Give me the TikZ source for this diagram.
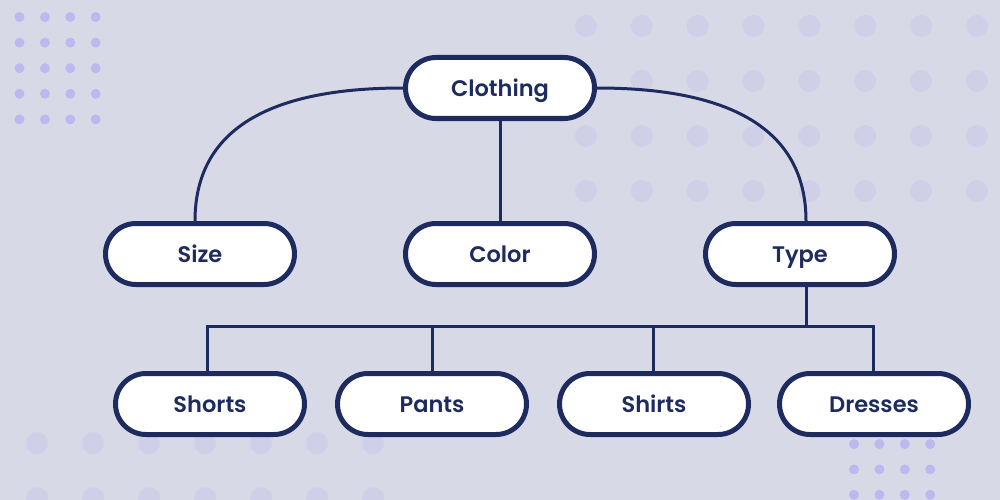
\documentclass[tikz,border=0pt]{standalone}
\usepackage{fontspec}
\usepackage{xcolor}
\newfontfamily\boxfont{Poppins SemiBold}

\begin{document}
\begin{tikzpicture}[x=1pt,y=-1pt,
  box/.style={draw=navy,line width=5pt,fill=white,rounded corners=30.5pt,
    minimum width=189pt,minimum height=61pt,text=navy,
    text height=18pt,text depth=1.5pt,
    font=\boxfont\fontsize{22.5}{26}\selectfont},
  link/.style={draw=navy,line width=3pt}]
\definecolor{lavender}{HTML}{D8D9E7}
\definecolor{navy}{HTML}{1D2B5F}
\definecolor{dotsmall}{HTML}{BDB8EF}
\definecolor{dotbig}{HTML}{CFCFE7}
\fill[lavender] (0,0) rectangle (1000,500);
\useasboundingbox (0,0) rectangle (1000,500);
% dots in the corners
\foreach \i in {0,...,7}
  \foreach \j in {0,...,3}
  { \fill[dotbig] (586+55.85*\i,26+55*\j) circle (11); }
\foreach \i in {0,...,6}
  \foreach \j in {0,1}
  { \fill[dotbig] (37+56*\i,443+55*\j) circle (11); }
\foreach \i in {0,...,3}
  \foreach \j in {0,...,4}
  { \fill[dotsmall] (19.5+25.4*\i,17+25.6*\j) circle (5); }
\foreach \i in {0,...,3}
  \foreach \j in {0,...,2}
  { \fill[dotsmall] (854+25.4*\i,444+25.4*\j) circle (5); }
% the boxes
\foreach \name/\txt/\xpos/\ypos in {cloth/Clothing/500/88,size/Size/200/254,
  color/Color/500/254,type/Type/800/254,shorts/Shorts/210/404,
  pants/Pants/432/404,shirts/Shirts/654/404,dresses/Dresses/874/404}
  { \node[box] (\name) at (\xpos,\ypos) {\txt}; }
% links
\draw[link] (cloth.west) .. controls (253,88) and ([xshift=-5pt]size.north |- 0,140) .. ([xshift=-5pt]size.north);
\draw[link] (cloth.east) .. controls (747,88) and ([xshift=6pt]type.north |- 0,140) .. ([xshift=6pt]type.north);
\draw[link] (cloth.south) -- (color.north);
\coordinate (split) at (806,326);
\draw[link] (type.south -| split) -- (split);
\draw[link] ([xshift=-3pt]shorts.north) -- ([xshift=-3pt]shorts.north |- split) -- ([xshift=-1pt]dresses.north |- split) -- ([xshift=-1pt]dresses.north);
\draw[link] (pants.north) -- (pants.north |- split);
\draw[link] ([xshift=-1pt]shirts.north) -- ([xshift=-1pt]shirts.north |- split);
\end{tikzpicture}
\end{document}
